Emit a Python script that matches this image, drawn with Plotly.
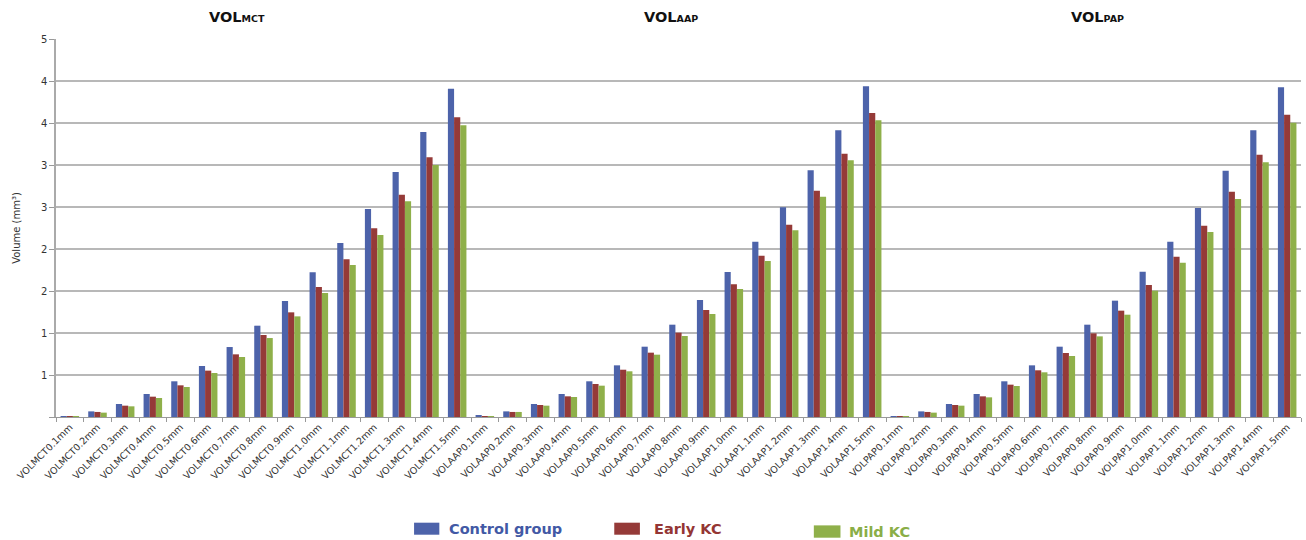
import plotly.graph_objects as go

# Measurement depths and regions (x-axis categories)
depths = ["0.1mm", "0.2mm", "0.3mm", "0.4mm", "0.5mm", "0.6mm", "0.7mm", "0.8mm",
          "0.9mm", "1.0mm", "1.1mm", "1.2mm", "1.3mm", "1.4mm", "1.5mm"]
regions = ["VOLMCT", "VOLAAP", "VOLPAP"]
categories = [r + d for r in regions for d in depths]

# Volume (mm³) per group: MCT, AAP, PAP blocks of 15 depths
control_mct = [0.01, 0.067, 0.155, 0.274, 0.425, 0.607, 0.833, 1.087, 1.381, 1.722, 2.071, 2.476, 2.917, 3.393, 3.909]
control_aap = [0.012, 0.067, 0.155, 0.274, 0.425, 0.615, 0.837, 1.099, 1.393, 1.726, 2.087, 2.496, 2.937, 3.413, 3.937]
control_pap = [0.01, 0.067, 0.155, 0.274, 0.425, 0.615, 0.837, 1.099, 1.385, 1.730, 2.087, 2.488, 2.933, 3.413, 3.925]

early_mct = [0.01, 0.060, 0.135, 0.242, 0.377, 0.552, 0.746, 0.976, 1.246, 1.548, 1.877, 2.246, 2.647, 3.091, 3.567]
early_aap = [0.01, 0.060, 0.143, 0.246, 0.393, 0.563, 0.766, 1.004, 1.274, 1.579, 1.921, 2.290, 2.694, 3.135, 3.619]
early_pap = [0.01, 0.060, 0.143, 0.246, 0.385, 0.556, 0.762, 0.996, 1.266, 1.571, 1.909, 2.278, 2.683, 3.123, 3.599]

mild_mct = [0.01, 0.052, 0.127, 0.226, 0.357, 0.524, 0.714, 0.940, 1.198, 1.476, 1.810, 2.167, 2.567, 3.000, 3.472]
mild_aap = [0.01, 0.060, 0.135, 0.238, 0.373, 0.544, 0.742, 0.964, 1.226, 1.524, 1.857, 2.222, 2.623, 3.056, 3.532]
mild_pap = [0.01, 0.052, 0.135, 0.234, 0.369, 0.532, 0.726, 0.960, 1.218, 1.504, 1.837, 2.202, 2.595, 3.032, 3.504]

group_names = ["Control group", "Early KC", "Mild KC"]
group_values = [control_mct + control_aap + control_pap,
                early_mct + early_aap + early_pap,
                mild_mct + mild_aap + mild_pap]
bar_colors = ["#4d63aa", "#953a38", "#8fb04a"]
text_colors = ["#4259a5", "#943634", "#8aae47"]

# y-axis ticks every 0.5, labelled with whole numbers
y_tickvals = [0, 0.5, 1.0, 1.5, 2.0, 2.5, 3.0, 3.5, 4.0, 4.5]
y_ticktext = ["", "1", "1", "2", "2", "3", "3", "4", "4", "5"]

section_titles = ["MCT", "AAP", "PAP"]

FONT = "DejaVu Sans"

fig = go.Figure()
for name, vals, col in zip(group_names, group_values, bar_colors):
    fig.add_trace(go.Bar(x=categories, y=vals, name=name,
                         marker=dict(color=col, line=dict(width=0)),
                         showlegend=False))

fig.update_layout(
    width=1306, height=540,
    margin=dict(l=56, r=5, t=39, b=123),
    paper_bgcolor="white", plot_bgcolor="white",
    barmode="group", bargap=0.33, bargroupgap=0,
    font=dict(family=FONT, color="#333333"),
)

fig.update_xaxes(
    type="category", tickangle=-45,
    tickfont=dict(family=FONT, size=9.5, color="#333333"),
    ticks="outside", tickson="boundaries", ticklen=4, tickcolor="#999999",
    showline=True, linecolor="#999999", linewidth=1,
    showgrid=False,
)
fig.update_yaxes(
    range=[0, 4.5], tickvals=y_tickvals, ticktext=y_ticktext,
    tickfont=dict(family=FONT, size=10, color="#333333"),
    ticks="outside", ticklen=5, tickcolor="#999999",
    showline=True, linecolor="#aaaaaa", linewidth=1.5,
    showgrid=True, gridcolor="#b8b8b8", gridwidth=1.5,
    zeroline=False,
    title=dict(text="Volume (mm³)", font=dict(family=FONT, size=10, color="#333333"), standoff=18),
)

# Section headings above the three blocks
for label, xp in zip(section_titles, [0.1451, 0.4939, 0.8367]):
    fig.add_annotation(
        x=xp, y=1.058, xref="paper", yref="paper", showarrow=False,
        xanchor="center", yanchor="middle",
        text="<b>VOL<span style='font-size:9.5px'>" + label + "</span></b>",
        font=dict(family=FONT, size=14.5, color="#111111"),
    )

# Legend drawn beneath the axis
legend_boxes = [(0.2876, 0.3079, -0.2796, -0.3114),
                (0.4484, 0.4690, -0.2796, -0.3114),
                (0.6087, 0.6301, -0.2867, -0.3193)]
legend_text_pos = [(0.3139, -0.2955), (0.4784, -0.2955), (0.6357, -0.3030)]
for name, col, tcol, box, tpos in zip(group_names, bar_colors, text_colors,
                                      legend_boxes, legend_text_pos):
    x0, x1, y0, y1 = box
    fig.add_shape(type="rect", xref="paper", yref="paper",
                  x0=x0, x1=x1, y0=y1, y1=y0,
                  fillcolor=col, line=dict(width=0))
    fig.add_annotation(x=tpos[0], y=tpos[1], xref="paper", yref="paper",
                       showarrow=False, xanchor="left", yanchor="middle",
                       text="<b>" + name + "</b>",
                       font=dict(family=FONT, size=14.5, color=tcol))

fig.write_html("out.html")
